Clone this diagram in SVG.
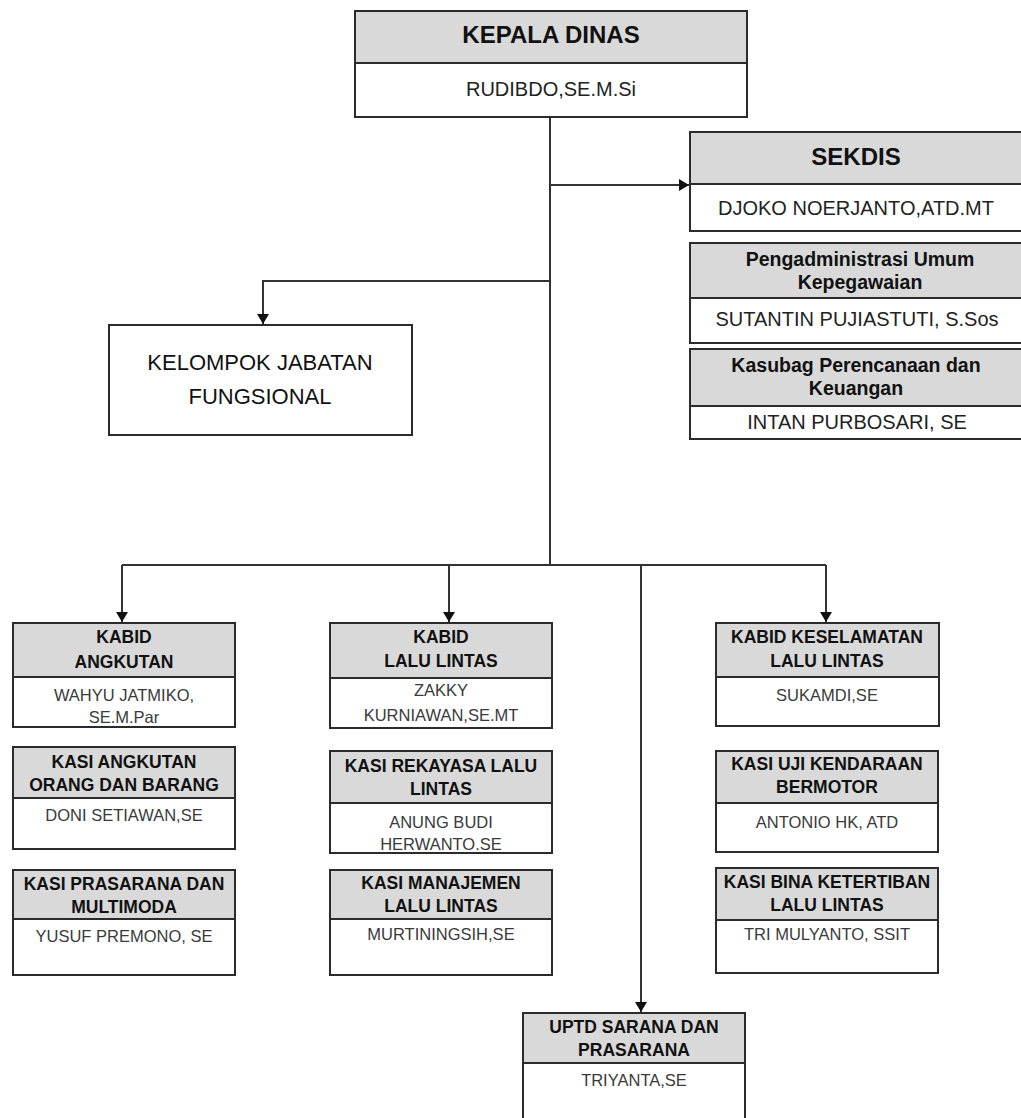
<svg xmlns="http://www.w3.org/2000/svg" width="1021" height="1118" viewBox="0 0 1021 1118">
<defs>
<style>
.hd{fill:#d9d9d9;stroke:#2b2b2b;stroke-width:2}
.bd{fill:#ffffff;stroke:#2b2b2b;stroke-width:2}
.ln{fill:none;stroke:#333;stroke-width:2}
text{font-family:"Liberation Sans",Arial,sans-serif;text-anchor:middle}
.t1{font-size:24px;font-weight:bold;fill:#111}
.n1{font-size:20px;fill:#222}
.t2{font-size:19.5px;font-weight:bold;fill:#111}
.n2{font-size:20px;fill:#222}
.th{font-size:17.5px;font-weight:bold;fill:#111}
.nm{font-size:16.5px;fill:#3a3a3a}
.kf{font-size:22px;fill:#111}
</style>
<marker id="arr" viewBox="0 0 10 12" refX="10" refY="6" markerWidth="10" markerHeight="12" markerUnits="userSpaceOnUse" orient="auto">
<path d="M0,0 L10,6 L0,12 Z" fill="#111"/>
</marker>
</defs>

<g id="connectors">
<path class="ln" d="M550,117 V565"/>
<path class="ln" d="M550,185 H689" marker-end="url(#arr)"/>
<path class="ln" d="M550,281 H263 V324" marker-end="url(#arr)"/>
<path class="ln" d="M122,565 H826"/>
<path class="ln" d="M122,565 V622" marker-end="url(#arr)"/>
<path class="ln" d="M449,565 V622" marker-end="url(#arr)"/>
<path class="ln" d="M826,565 V622" marker-end="url(#arr)"/>
<path class="ln" d="M641,565 V1012" marker-end="url(#arr)"/>
</g>

<g id="kepala-dinas">
<rect class="hd" x="355" y="11" width="392" height="52"/>
<rect class="bd" x="355" y="63" width="392" height="54"/>
<text class="t1" x="551" y="43">KEPALA DINAS</text>
<text class="n1" x="551" y="96">RUDIBDO,SE.M.Si</text>
</g>

<g id="sekdis">
<rect class="hd" x="690" y="132" width="334" height="52"/>
<rect class="bd" x="690" y="184" width="334" height="47"/>
<text class="t1" x="856" y="165">SEKDIS</text>
<text class="n2" x="856" y="215" font-size="21.5">DJOKO NOERJANTO,ATD.MT</text>
</g>

<g id="pengadministrasi">
<rect class="hd" x="690" y="243" width="334" height="55"/>
<rect class="bd" x="690" y="298" width="334" height="45"/>
<text class="t2" x="860" y="266">Pengadministrasi Umum</text>
<text class="t2" x="860" y="289">Kepegawaian</text>
<text class="n2" x="857" y="326">SUTANTIN PUJIASTUTI, S.Sos</text>
</g>

<g id="kasubag">
<rect class="hd" x="690" y="349" width="334" height="57"/>
<rect class="bd" x="690" y="406" width="334" height="33"/>
<text class="t2" x="856" y="372">Kasubag Perencanaan dan</text>
<text class="t2" x="856" y="395">Keuangan</text>
<text class="n2" x="857" y="429" font-size="19.5">INTAN PURBOSARI, SE</text>
</g>

<g id="kelompok">
<rect class="bd" x="109" y="325" width="303" height="110"/>
<text class="kf" x="260" y="370">KELOMPOK JABATAN</text>
<text class="kf" x="260" y="404">FUNGSIONAL</text>
</g>

<g id="kabid-angkutan">
<rect class="hd" x="13" y="623" width="222" height="54"/>
<rect class="bd" x="13" y="677" width="222" height="50"/>
<text class="th" x="124" y="643">KABID</text>
<text class="th" x="124" y="668">ANGKUTAN</text>
<text class="nm" x="124" y="701">WAHYU JATMIKO,</text>
<text class="nm" x="124" y="723">SE.M.Par</text>
</g>

<g id="kasi-angkutan">
<rect class="hd" x="13" y="747" width="222" height="51"/>
<rect class="bd" x="13" y="798" width="222" height="51"/>
<text class="th" x="124" y="768">KASI ANGKUTAN</text>
<text class="th" x="124" y="791">ORANG DAN BARANG</text>
<text class="nm" x="124" y="821">DONI SETIAWAN,SE</text>
</g>

<g id="kasi-prasarana">
<rect class="hd" x="13" y="870" width="222" height="49"/>
<rect class="bd" x="13" y="919" width="222" height="56"/>
<text class="th" x="124" y="890">KASI PRASARANA DAN</text>
<text class="th" x="124" y="913">MULTIMODA</text>
<text class="nm" x="124" y="942">YUSUF PREMONO, SE</text>
</g>

<g id="kabid-lalu-lintas">
<rect class="hd" x="330" y="623" width="222" height="55"/>
<rect class="bd" x="330" y="678" width="222" height="50"/>
<text class="th" x="441" y="643">KABID</text>
<text class="th" x="441" y="667">LALU LINTAS</text>
<text class="nm" x="441" y="696">ZAKKY</text>
<text class="nm" x="441" y="721">KURNIAWAN,SE.MT</text>
</g>

<g id="kasi-rekayasa">
<rect class="hd" x="330" y="751" width="222" height="52"/>
<rect class="bd" x="330" y="803" width="222" height="50"/>
<text class="th" x="441" y="772">KASI REKAYASA LALU</text>
<text class="th" x="441" y="795">LINTAS</text>
<text class="nm" x="441" y="828">ANUNG BUDI</text>
<text class="nm" x="441" y="850">HERWANTO.SE</text>
</g>

<g id="kasi-manajemen">
<rect class="hd" x="330" y="870" width="222" height="49"/>
<rect class="bd" x="330" y="919" width="222" height="56"/>
<text class="th" x="441" y="889">KASI MANAJEMEN</text>
<text class="th" x="441" y="912">LALU LINTAS</text>
<text class="nm" x="441" y="940">MURTININGSIH,SE</text>
</g>

<g id="kabid-keselamatan">
<rect class="hd" x="716" y="623" width="223" height="54"/>
<rect class="bd" x="716" y="677" width="223" height="49"/>
<text class="th" x="827" y="643">KABID KESELAMATAN</text>
<text class="th" x="827" y="667">LALU LINTAS</text>
<text class="nm" x="827" y="701">SUKAMDI,SE</text>
</g>

<g id="kasi-uji">
<rect class="hd" x="716" y="751" width="222" height="52"/>
<rect class="bd" x="716" y="803" width="222" height="49"/>
<text class="th" x="827" y="770">KASI UJI KENDARAAN</text>
<text class="th" x="827" y="793">BERMOTOR</text>
<text class="nm" x="827" y="828">ANTONIO HK, ATD</text>
</g>

<g id="kasi-bina">
<rect class="hd" x="716" y="868" width="222" height="52"/>
<rect class="bd" x="716" y="920" width="222" height="53"/>
<text class="th" x="827" y="888">KASI BINA KETERTIBAN</text>
<text class="th" x="827" y="911">LALU LINTAS</text>
<text class="nm" x="827" y="940">TRI MULYANTO, SSIT</text>
</g>

<g id="uptd">
<rect class="hd" x="523" y="1013" width="222" height="50"/>
<rect class="bd" x="523" y="1063" width="222" height="70"/>
<text class="th" x="634" y="1033">UPTD SARANA DAN</text>
<text class="th" x="634" y="1056">PRASARANA</text>
<text class="nm" x="634" y="1086">TRIYANTA,SE</text>
</g>
</svg>
